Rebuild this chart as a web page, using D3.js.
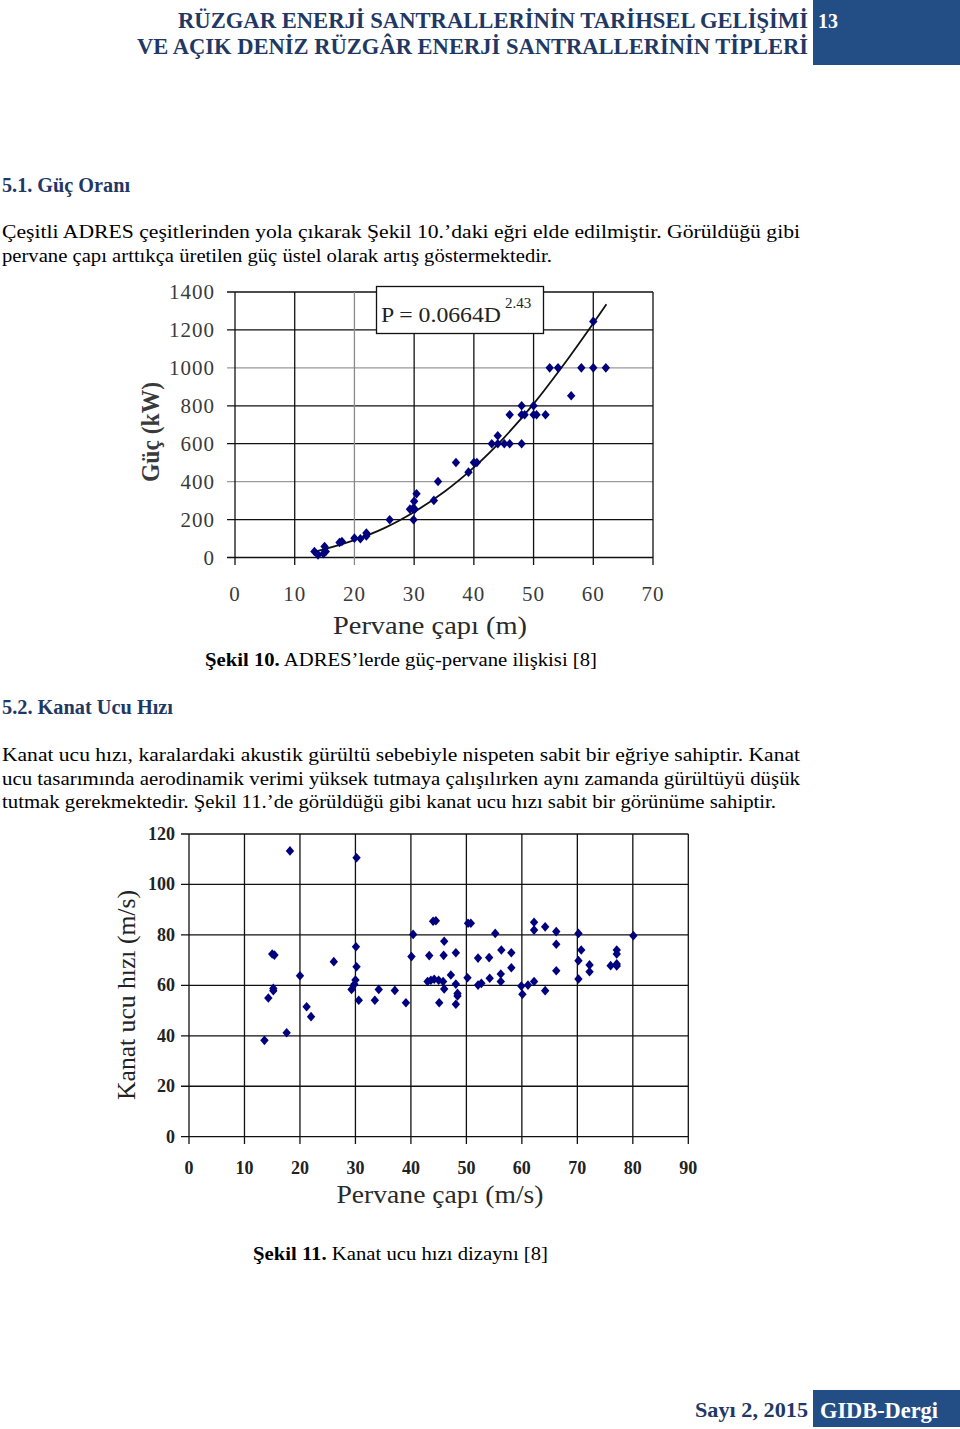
<!DOCTYPE html>
<html><head><meta charset="utf-8">
<script src="https://cdn.jsdelivr.net/npm/d3@7"></script>
<style>body{margin:0;background:#fff}svg{display:block}</style>
</head><body>
<script>
// ---------- Figure 10 data ----------
const fig10Diameter = [13.3,13.9,14.8,15.0,15.2,17.5,17.9,20.0,21.0,22.0,22.0,25.9,29.3,29.8,30.1,29.9,30.0,30.4,33.3,34.0,37.0,39.1,40.0,40.5,43.0,44.0,44.0,45.1,46.0,48.0,46.0,48.0,48.5,50.0,50.5,52.0,48.0,50.0,56.3,52.7,54.1,58.0,60.0,62.1,60.0];
const fig10Power    = [32,14,20,58,32,79,84,102,99,129,114,199,255,258,255,199,296,336,301,401,501,450,501,501,600,642,600,600,600,600,753,753,753,753,753,753,800,800,853,1000,1000,1000,1000,1000,1245];
const fig10TrendD = [13.3,15,20,25,30,35,40,45,50,55,60,62.2];
const fig10TrendP = [30,44,92,155,240,345,475,630,810,1015,1235,1335];
const fig10XTicks = [0,10,20,30,40,50,60,70];
const fig10YTicks = [0,200,400,600,800,1000,1200,1400];
const fig10Equation = "P = 0.0664D";
const fig10Exponent = "2.43";

// ---------- Figure 11 data ----------
const fig11Diameter = [13.6,14.3,15.0,15.4,15.2,15.2,17.6,18.2,20.0,21.2,22.0,26.1,30.2,30.1,30.2,30.0,29.8,29.3,30.6,33.5,34.2,37.1,39.1,40.1,40.4,44.0,44.5,46.0,43.3,45.9,48.1,47.2,43.0,43.6,44.2,45.0,45.8,46.0,48.1,45.1,48.4,48.4,48.1,50.3,50.8,55.2,50.2,52.1,54.1,56.3,58.1,58.1,56.2,56.2,54.2,52.1,52.7,59.9,61.1,62.2,60.1,64.2,62.2,62.2,64.2,66.2,66.2,66.2,70.2,70.7,70.2,70.2,72.2,72.2,76.0,77.1,77.1,77.1,77.1,80.1];
const fig11Speed    = [38.2,55.0,72.4,72.0,58.8,57.9,41.2,113.3,63.8,51.5,47.6,69.4,110.6,75.3,67.4,62.1,60.4,58.4,54.1,54.1,58.4,58.0,53.1,71.4,80.2,85.4,85.6,77.5,71.8,71.9,72.9,64.1,61.5,62.0,62.4,62.0,61.5,58.6,60.5,53.1,56.8,55.8,52.5,84.6,84.6,80.6,63.0,70.8,71.0,74.0,72.9,67.0,64.5,61.5,62.8,60.1,60.8,59.7,60.1,61.5,56.5,57.9,85.0,81.9,83.2,81.3,76.3,65.8,80.6,74.0,69.8,62.5,68.1,65.4,67.8,74.0,72.4,68.5,67.7,79.7];
const fig11XTicks = [0,10,20,30,40,50,60,70,80,90];
const fig11YTicks = [0,20,40,60,80,100,120];

// ---------- page text ----------
const headerLines = ["RÜZGAR ENERJİ SANTRALLERİNİN TARİHSEL GELİŞİMİ","VE AÇIK DENİZ RÜZGÂR ENERJİ SANTRALLERİNİN TİPLERİ"];
const pageNumber = "13";
const heading1 = "5.1. Güç Oranı";
const para1 = ["Çeşitli ADRES çeşitlerinden yola çıkarak Şekil 10.’daki eğri elde edilmiştir. Görüldüğü gibi","pervane çapı arttıkça üretilen güç üstel olarak artış göstermektedir."];
const caption1 = ["Şekil 10.", " ADRES’lerde güç-pervane ilişkisi [8]"];
const heading2 = "5.2. Kanat Ucu Hızı";
const para2 = ["Kanat ucu hızı, karalardaki akustik gürültü sebebiyle nispeten sabit bir eğriye sahiptir. Kanat","ucu tasarımında aerodinamik verimi yüksek tutmaya çalışılırken aynı zamanda gürültüyü düşük","tutmak gerekmektedir. Şekil 11.’de görüldüğü gibi kanat ucu hızı sabit bir görünüme sahiptir."];
const caption2 = ["Şekil 11.", " Kanat ucu hızı dizaynı [8]"];
const footerLeft = "Sayı 2, 2015";
const footerRight = "GIDB-Dergi";

const W = 960, H = 1429;
const svg = d3.select("body").append("svg").attr("width", W).attr("height", H);
const SERIF = "'Liberation Serif','Times New Roman',serif";
const NAVY = "#1f3864", BOX = "#234e85", MARK = "#00007f";

// header
svg.append("rect").attr("x",813).attr("y",0).attr("width",147).attr("height",65).attr("fill",BOX);
svg.append("text").attr("x",818).attr("y",28).attr("font-family",SERIF).attr("font-weight","bold")
  .attr("font-size",20).attr("fill","#fff").text(pageNumber);
const hdrBase=[28,54], hdrLeft=[178,137];
headerLines.forEach((t,i)=>{
  svg.append("text").attr("x",hdrLeft[i]).attr("y",hdrBase[i]).attr("font-family",SERIF).attr("font-weight","bold")
    .attr("font-size",23).attr("fill",NAVY).attr("textLength",808-hdrLeft[i]).attr("lengthAdjust","spacingAndGlyphs").text(t);
});

function heading(t,y,w){
  svg.append("text").attr("x",2).attr("y",y).attr("font-family",SERIF).attr("font-weight","bold")
    .attr("font-size",20).attr("fill",NAVY).attr("textLength",w).attr("lengthAdjust","spacingAndGlyphs").text(t);
}
function para(lines,y0,widths){
  lines.forEach((t,i)=>{
    svg.append("text").attr("x",2).attr("y",y0+i*23.5).attr("font-family",SERIF)
      .attr("font-size",19).attr("fill","#000").attr("textLength",widths[i]).attr("lengthAdjust","spacingAndGlyphs").text(t);
  });
}
function caption(parts,x,y,w){
  const t=svg.append("text").attr("x",x).attr("y",y).attr("font-family",SERIF).attr("font-size",19)
    .attr("fill","#000").attr("textLength",w).attr("lengthAdjust","spacingAndGlyphs");
  t.append("tspan").attr("font-weight","bold").text(parts[0]);
  t.append("tspan").text(parts[1]);
}
heading(heading1,192,128);
para(para1,238,[798,550]);
caption(caption1,205,666,392);
heading(heading2,714,171);
para(para2,761,[798,798,774]);
caption(caption2,253,1260,295);

// footer
svg.append("text").attr("x",695).attr("y",1417).attr("font-family",SERIF).attr("font-weight","bold")
  .attr("font-size",22).attr("fill",NAVY).attr("textLength",113).attr("lengthAdjust","spacingAndGlyphs").text(footerLeft);
svg.append("rect").attr("x",813).attr("y",1390).attr("width",147).attr("height",37).attr("fill",BOX);
svg.append("text").attr("x",820).attr("y",1418).attr("font-family",SERIF).attr("font-weight","bold")
  .attr("font-size",23).attr("fill","#fff").attr("textLength",118).attr("lengthAdjust","spacingAndGlyphs").text(footerRight);

const diamond = "M0,-4.8L4.2,0L0,4.8L-4.2,0Z";

// ---------- Figure 10 ----------
{
  const x = d3.scaleLinear().domain([0,70]).range([235,653]);
  const y = d3.scaleLinear().domain([0,1400]).range([557.5,292]);
  const g = svg.append("g");
  const grey = v => (v===400||v===1000) ? "#9a9a9a" : "#111";
  g.selectAll(".hg").data(fig10YTicks).join("line")
    .attr("x1",227).attr("x2",653).attr("y1",d=>y(d)).attr("y2",d=>y(d))
    .attr("stroke",d=>grey(d)).attr("stroke-width",1.3);
  g.selectAll(".vg").data(fig10XTicks).join("line")
    .attr("x1",d=>x(d)).attr("x2",d=>x(d)).attr("y1",292).attr("y2",565)
    .attr("stroke",d=>d===20?"#8a8a8a":"#111").attr("stroke-width",1.3);
  g.selectAll(".yl").data(fig10YTicks).join("text")
    .attr("x",215).attr("y",d=>y(d)+7).attr("text-anchor","end").attr("font-family",SERIF)
    .attr("font-size",21).attr("letter-spacing",1).attr("fill","#3a3a3a").text(d=>d);
  g.selectAll(".xl").data(fig10XTicks).join("text")
    .attr("x",d=>x(d)).attr("y",601).attr("text-anchor","middle").attr("font-family",SERIF)
    .attr("font-size",21).attr("letter-spacing",1).attr("fill","#3a3a3a").text(d=>d);
  g.append("text").attr("x",430).attr("y",634).attr("text-anchor","middle").attr("font-family",SERIF)
    .attr("font-size",26).attr("fill","#2a2a2a").attr("textLength",194).attr("lengthAdjust","spacingAndGlyphs").text("Pervane çapı (m)");
  g.append("text").attr("transform","translate(159,432) rotate(-90)").attr("text-anchor","middle").attr("font-family",SERIF)
    .attr("font-size",26).attr("font-weight","bold").attr("fill","#3a3a3a").attr("textLength",100).attr("lengthAdjust","spacingAndGlyphs").text("Güç (kW)");
  const line = d3.line().x(d=>x(d[0])).y(d=>y(d[1])).curve(d3.curveCatmullRom);
  g.append("path").datum(d3.zip(fig10TrendD,fig10TrendP)).attr("d",line)
    .attr("fill","none").attr("stroke","#111").attr("stroke-width",1.8);
  g.selectAll(".pt").data(d3.zip(fig10Diameter,fig10Power)).join("path")
    .attr("d",diamond).attr("transform",d=>`translate(${x(d[0])},${y(d[1])})`).attr("fill",MARK);
  g.append("rect").attr("x",376.5).attr("y",286.5).attr("width",167).attr("height",47)
    .attr("fill","#fff").attr("stroke","#111").attr("stroke-width",1.3);
  g.append("text").attr("x",381).attr("y",322).attr("font-family",SERIF).attr("font-size",22)
    .attr("fill","#222").attr("textLength",120).attr("lengthAdjust","spacingAndGlyphs").text(fig10Equation);
  g.append("text").attr("x",505).attr("y",308).attr("font-family",SERIF).attr("font-size",15)
    .attr("fill","#222").text(fig10Exponent);
}

// ---------- Figure 11 ----------
{
  const x = d3.scaleLinear().domain([0,90]).range([189,688.3]);
  const y = d3.scaleLinear().domain([0,120]).range([1136.7,834]);
  const g = svg.append("g");
  g.selectAll(".hg").data(fig11YTicks).join("line")
    .attr("x1",181).attr("x2",688.3).attr("y1",d=>y(d)).attr("y2",d=>y(d))
    .attr("stroke","#111").attr("stroke-width",1.3);
  g.selectAll(".vg").data(fig11XTicks).join("line")
    .attr("x1",d=>x(d)).attr("x2",d=>x(d)).attr("y1",834).attr("y2",1144)
    .attr("stroke","#111").attr("stroke-width",1.3);
  g.selectAll(".yl").data(fig11YTicks).join("text")
    .attr("x",175).attr("y",d=>y(d)+6).attr("text-anchor","end").attr("font-family",SERIF)
    .attr("font-size",18).attr("font-weight","bold").attr("fill","#222").text(d=>d);
  g.selectAll(".xl").data(fig11XTicks).join("text")
    .attr("x",d=>x(d)).attr("y",1174).attr("text-anchor","middle").attr("font-family",SERIF)
    .attr("font-size",18).attr("font-weight","bold").attr("fill","#222").text(d=>d);
  g.append("text").attr("x",440).attr("y",1203).attr("text-anchor","middle").attr("font-family",SERIF)
    .attr("font-size",25).attr("fill","#2a2a2a").attr("textLength",207).attr("lengthAdjust","spacingAndGlyphs").text("Pervane çapı (m/s)");
  g.append("text").attr("transform","translate(135,995) rotate(-90)").attr("text-anchor","middle").attr("font-family",SERIF)
    .attr("font-size",25).attr("fill","#222").attr("textLength",210).attr("lengthAdjust","spacingAndGlyphs").text("Kanat ucu hızı (m/s)");
  g.selectAll(".pt").data(d3.zip(fig11Diameter,fig11Speed)).join("path")
    .attr("d",diamond).attr("transform",d=>`translate(${x(d[0])},${y(d[1])})`).attr("fill",MARK);
}
</script>
</body></html>
